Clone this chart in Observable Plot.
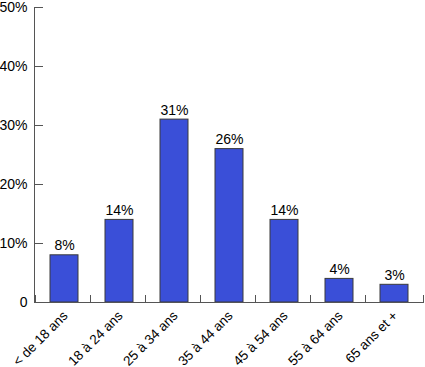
<!DOCTYPE html>
<html>
<head>
<meta charset="utf-8">
<script src="https://cdn.jsdelivr.net/npm/d3@7"></script>
<script src="https://cdn.jsdelivr.net/npm/@observablehq/plot@0.6"></script>
<style>
  html, body { margin: 0; padding: 0; background: #fff; }
</style>
</head>
<body>
<div id="chart"></div>
<script>
const categories = ["< de 18 ans", "18 à 24 ans", "25 à 34 ans", "35 à 44 ans", "45 à 54 ans", "55 à 64 ans", "65 ans et +"];
const values = [8, 14, 31, 26, 14, 4, 3];
const yTicks = [0, 10, 20, 30, 40, 50];

const data = categories.map((c, i) => ({cat: c, value: values[i]}));

const chart = Plot.plot({
  width: 425,
  height: 367,
  marginLeft: 34,
  marginRight: 1,
  marginTop: 7,
  marginBottom: 65,
  style: {fontFamily: "'Liberation Sans', Arial, sans-serif", fontSize: "14px", color: "#000", background: "#fff"},
  x: {domain: categories, paddingInner: 0.5, paddingOuter: 0.25, label: null},
  y: {domain: [0, 50], label: null},
  marks: [
    Plot.axisX({tickSize: 0, tickRotate: -45, tickPadding: 6, dx: 1, dy: 5, fontSize: 13.5, label: null}),
    Plot.axisY(yTicks, {tickSize: 0, tickPadding: 7, tickFormat: d => d === 0 ? "0" : d + "%", fontSize: 14, label: null}),
    Plot.barY(data, {x: "cat", y: "value", fill: "#3a4fd8", stroke: "#3a3a3a", strokeWidth: 1}),
    Plot.text(data, {x: "cat", y: "value", text: d => d.value + "%", lineAnchor: "bottom", dy: -5, fontSize: 14, fill: "#000"})
  ]
});

// axis lines and inward ticks drawn from the chart's own scales
const xs = chart.scale("x");
const ys = chart.scale("y");
const svg = d3.select(chart);
const g = svg.append("g").attr("stroke", "#555").attr("stroke-width", 1).attr("fill", "none");
const x0 = xs.range[0], x1 = xs.range[1];
const yBottom = ys.apply(0), yTop = ys.apply(50);
g.append("line").attr("x1", x0 + 0.5).attr("x2", x0 + 0.5).attr("y1", yTop).attr("y2", yBottom);
g.append("line").attr("x1", x0).attr("x2", x1).attr("y1", yBottom + 0.5).attr("y2", yBottom + 0.5);
yTicks.forEach(t => {
  const y = Math.round(ys.apply(t)) + 0.5;
  g.append("line").attr("x1", x0).attr("x2", x0 + 9).attr("y1", y).attr("y2", y);
});
const boundaries = categories.map(c => xs.apply(c) - xs.step * 0.25).concat([x1]);
boundaries.forEach(b => {
  const x = Math.round(b) - 0.5;
  g.append("line").attr("x1", x).attr("x2", x).attr("y1", yBottom).attr("y2", yBottom - 7);
});

document.getElementById("chart").appendChild(chart);
</script>
</body>
</html>
